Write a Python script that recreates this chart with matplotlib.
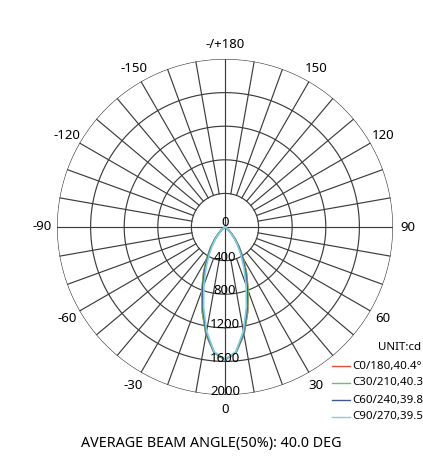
import numpy as np
import matplotlib
matplotlib.use("Agg")
import matplotlib.pyplot as plt

plt.rcParams['font.family'] = ['Noto Sans', 'DejaVu Sans']

# ---- data ----
gamma = [0, 5, 10, 15, 20, 25, 30, 35, 40, 45, 50, 55, 60, 70, 80, 90]
c0_180 = [1580, 1500, 1300, 1045, 805, 605, 435, 300, 190, 110, 55, 22, 8, 2, 0, 0]
c30_210 = [1580, 1500, 1295, 1040, 800, 600, 430, 295, 185, 105, 52, 20, 7, 2, 0, 0]
c60_240 = [1580, 1495, 1280, 1015, 775, 575, 405, 280, 175, 100, 50, 20, 7, 2, 0, 0]
c90_270 = [1580, 1490, 1260, 985, 735, 535, 375, 255, 160, 90, 45, 18, 6, 2, 0, 0]
series_labels = ["C0/180,40.4°", "C30/210,40.3°", "C60/240,39.8°", "C90/270,39.5°"]
series_colors = ["#e0503c", "#66c266", "#3f5a86", "#7fcfe0"]
ring_values = [400, 800, 1200, 1600, 2000]
radial_labels = ["0", "400", "800", "1200", "1600", "2000"]
angle_labels = {0: "0", 30: "30", 60: "60", 90: "90", 120: "120", 150: "150",
                180: "-/+180", -150: "-150", -120: "-120", -90: "-90",
                -60: "-60", -30: "-30"}
title = "AVERAGE BEAM ANGLE(50%): 40.0 DEG"

W, H = 423, 468
fig = plt.figure(figsize=(W / 100, H / 100), dpi=100)
cx, cy, R = 225, 227, 168
ax = fig.add_axes([(cx - R) / W, (H - cy - R) / H, 2 * R / W, 2 * R / H], projection='polar')
ax.set_theta_zero_location('S')
ax.set_theta_direction(1)
ax.set_ylim(0, 2000)
ax.axis('off')

gc = "#3c3c3c"
lw = 0.85
tt = np.linspace(0, 2 * np.pi, 721)
for rv in ring_values:
    ax.plot(tt, np.full_like(tt, rv), color=gc, lw=lw, zorder=1)
for a in range(0, 360, 10):
    r0 = 0 if a % 90 == 0 else ring_values[0]
    ax.plot([np.deg2rad(a)] * 2, [r0, ring_values[-1]], color=gc, lw=lw, zorder=1)

# curves
g = np.array(gamma, dtype=float)
for vals, col in zip([c0_180, c30_210, c60_240, c90_270], series_colors):
    v = np.array(vals, dtype=float)
    th = np.deg2rad(np.concatenate([-g[::-1], g[1:]]))
    rr = np.concatenate([v[::-1], v[1:]])
    ax.plot(th, rr, color=col, lw=1.2, zorder=3)

# radial labels
fs = 9.5
ax.text(np.pi, 55, radial_labels[0], ha='center', va='center', fontsize=fs, zorder=4)
for lab, rv in zip(radial_labels[1:], ring_values):
    ax.text(0, rv - 40, lab, ha='center', va='center', fontsize=fs, zorder=4)

# angle labels
for ang, lab in angle_labels.items():
    ax.text(np.deg2rad(ang), 2175, lab, ha='center', va='center', fontsize=fs, clip_on=False)

# legend (manual, clipped at figure edge)
lfs = 8.3
fig.text(378 / W, 1 - 348 / H, "UNIT:cd", fontsize=lfs, ha='left', va='center')
for i, (lab, col) in enumerate(zip(series_labels, series_colors)):
    y = 1 - (366 + 17 * i) / H
    fig.add_artist(plt.Line2D([332 / W, 350 / W], [y, y], color=col, lw=1.0))
    fig.text(352 / W, y, lab, fontsize=lfs, ha='left', va='center')

fig.text(211 / W, 1 - 444 / H, title, fontsize=10.3, ha='center', va='center')

fig.savefig("out.png", dpi=100)
